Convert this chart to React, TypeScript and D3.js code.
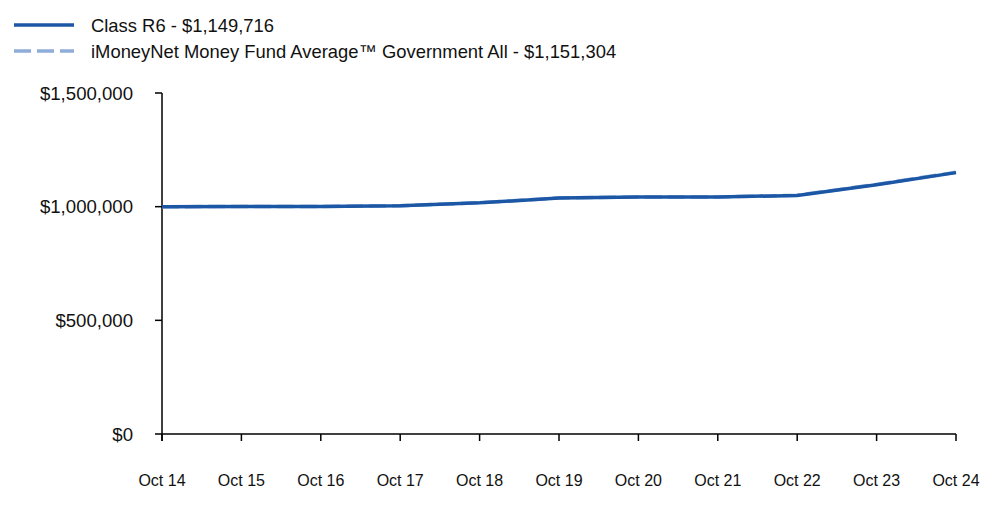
import React from "react";
import * as d3 from "d3";

const categories = ["Oct 14", "Oct 15", "Oct 16", "Oct 17", "Oct 18", "Oct 19", "Oct 20", "Oct 21", "Oct 22", "Oct 23", "Oct 24"];
const classR6 = [1000000, 1000300, 1000500, 1004500, 1016800, 1037800, 1042000, 1042100, 1049600, 1096500, 1149716];
const iMoneyNet = [1000000, 1000400, 1000600, 1004000, 1017000, 1038500, 1042500, 1042700, 1050500, 1098000, 1151304];
const yTicks = [0, 500000, 1000000, 1500000];
const legendLabels = ["Class R6 - $1,149,716", "iMoneyNet Money Fund Average\u2122 Government All - $1,151,304"];

const W = 1000, H = 523;
const left = 162, right = 956, top = 93, bottom = 434;
const solidColor = "#1c57a5";
const dashColor = "#8fadd9";
const font = "'Liberation Sans', Arial, sans-serif";

export default function App() {
  const x = d3.scalePoint<string>().domain(categories).range([left, right]);
  const y = d3.scaleLinear().domain([0, 1500000]).range([bottom, top]);
  const line = d3.line<number>().x((_, i) => x(categories[i])!).y(d => y(d));
  const fmt = (v: number) => "$" + d3.format(",")(v);
  return (
    <svg width={W} height={H} style={{ position: "absolute", left: 0, top: 0 }} fontFamily={font}>
      {/* legend */}
      <line x1={14} x2={74} y1={25} y2={25} stroke={solidColor} strokeWidth={3.5} />
      <text x={91} y={32} fontSize={18.4} fill="#111">{legendLabels[0]}</text>
      <line x1={14} x2={74} y1={51} y2={51} stroke={dashColor} strokeWidth={3.5} strokeDasharray="17,6" />
      <text x={91} y={58} fontSize={18.4} fill="#111">{legendLabels[1]}</text>
      {/* y axis */}
      <line x1={left} x2={left} y1={top} y2={bottom + 7} stroke="#000" strokeWidth={1.5} />
      {yTicks.map(t => (
        <g key={t}>
          <line x1={left - 7} x2={left} y1={y(t)} y2={y(t)} stroke="#000" strokeWidth={1.5} />
          <text x={133} y={y(t) + 6.5} textAnchor="end" fontSize={18.6} fill="#111">{fmt(t)}</text>
        </g>
      ))}
      {/* x axis */}
      <line x1={left} x2={right} y1={bottom} y2={bottom} stroke="#000" strokeWidth={1.5} />
      {categories.map(c => (
        <g key={c}>
          <line x1={x(c)} x2={x(c)} y1={bottom} y2={bottom + 7} stroke="#000" strokeWidth={1.5} />
          <text x={x(c)} y={486} textAnchor="middle" fontSize={16} fill="#111">{c}</text>
        </g>
      ))}
      {/* lines */}
      <path d={line(iMoneyNet)!} fill="none" stroke={dashColor} strokeWidth={3.5} strokeDasharray="17,6" />
      <path d={line(classR6)!} fill="none" stroke={solidColor} strokeWidth={3.5} />
    </svg>
  );
}
